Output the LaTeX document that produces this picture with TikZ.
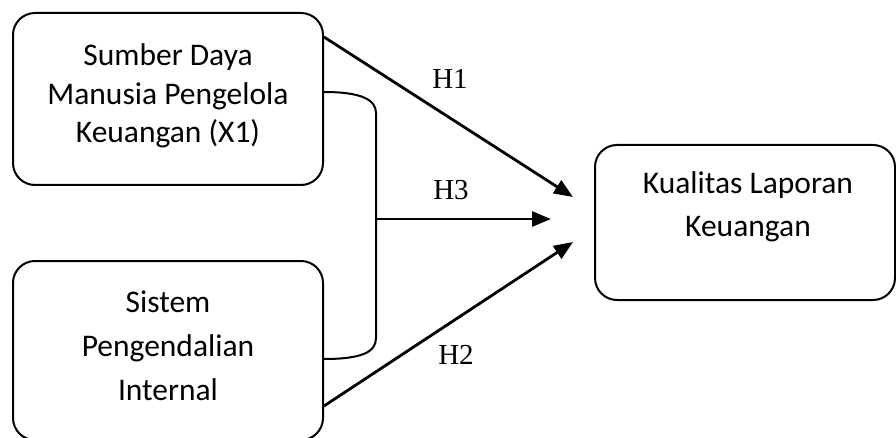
\documentclass[tikz,border=0pt]{standalone}
\usepackage{fontspec}
\setmainfont{Carlito}
\newfontfamily\hfont{Liberation Serif}
\usetikzlibrary{arrows.meta}

\begin{document}
\begin{tikzpicture}[x=1pt, y=-1pt,
    box/.style={draw, line width=2pt, rounded corners=22pt},
    boxtext/.style={align=center, inner sep=0pt},
    arr/.style={line width=2.8pt, -{Triangle[length=19pt,width=15pt]}},
    hlabel/.style={font=\hfont\fontsize{29}{31}\selectfont, inner sep=0pt}]
  \useasboundingbox (0,0) rectangle (896,438);

  % variables
  \node[box, minimum width=310pt, minimum height=172pt] (sdm) at (168,99) {};
  \node[box, minimum width=310pt, minimum height=179pt] (spi) at (168,350.5) {};
  \node[box, minimum width=300pt, minimum height=155pt] (klk) at (745,222.5) {};

  \node[boxtext, font=\fontsize{31.5}{38.5}\selectfont] at (168,96) {Sumber Daya\\Manusia Pengelola\\Keuangan (X1)};
  \node[boxtext, font=\fontsize{31.5}{44}\selectfont] at (168,346) {Sistem\\Pengendalian\\Internal};
  \node[boxtext, font=\fontsize{31.5}{43}\selectfont] at (748,207) {Kualitas Laporan\\Keuangan};

  % joint bracket
  \coordinate (jt) at (376,113);
  \coordinate (jb) at (376,338);
  \coordinate (jm) at (376,219);
  \draw[line width=2pt] ([yshift=7pt]sdm.east) .. controls (362,92) and (376,100) .. (jt)
    -- (jb) .. controls (376,352) and (362,359) .. ([yshift=-8.5pt]spi.east);

  % hypotheses
  \draw[arr] ([yshift=-25pt]sdm.north east) -- ([xshift=-21pt,yshift=25.5pt]klk.west);
  \draw[arr] ([yshift=35pt]spi.south east) -- ([xshift=-21pt,yshift=-19.5pt]klk.west);
  \draw[arr] (jm) -- ([xshift=-43pt,yshift=3.5pt]klk.west);

  \node[hlabel] (h1) at (450,79) {H1};
  \node[hlabel] (h3) at (451,190) {H3};
  \node[hlabel] (h2) at (456,355) {H2};
\end{tikzpicture}
\end{document}
